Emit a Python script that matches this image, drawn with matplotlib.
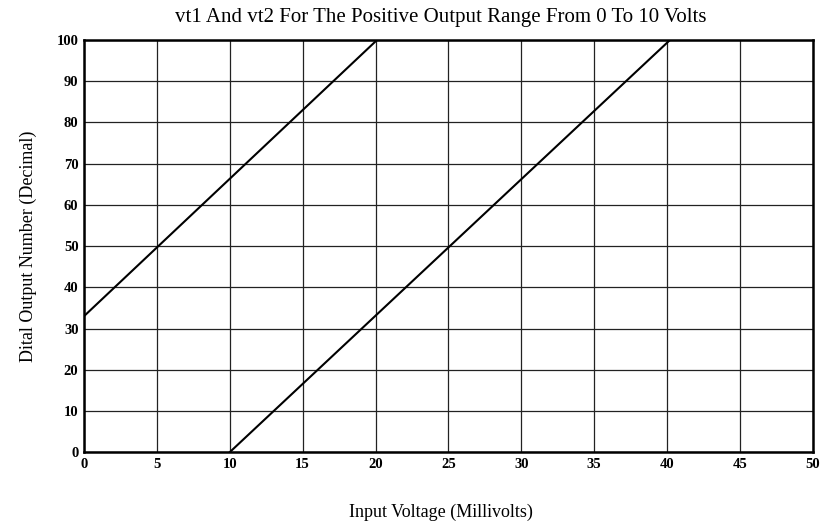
import numpy as np
import matplotlib.pyplot as plt

# line endpoints (input mV, output number)
vt1_x = [0, 20.1]
vt1_y = [33, 100]
vt2_x = [10, 40.2]
vt2_y = [0, 100]

x_ticks = list(range(0, 51, 5))
y_ticks = list(range(0, 101, 10))

plt.rcParams['font.family'] = ['Liberation Serif', 'DejaVu Serif']

fig = plt.figure(figsize=(8.26, 5.27), dpi=100)
ax = fig.add_axes([0.1017, 0.142, 0.8823, 0.782])

ax.plot(vt1_x, vt1_y, color='black', lw=1.5)
ax.plot(vt2_x, vt2_y, color='black', lw=1.5)

ax.set_xlim(0, 50)
ax.set_ylim(0, 100)
ax.set_xticks(x_ticks)
ax.set_yticks(y_ticks)
ax.tick_params(length=0, labelsize=10.5, pad=4)
for lab in ax.get_xticklabels() + ax.get_yticklabels():
    lab.set_fontweight('bold')

ax.grid(True, color='#222222', lw=0.9)
ax.set_axisbelow(True)
for s in ax.spines.values():
    s.set_linewidth(1.8)
    s.set_color('black')

ax.set_title("vt1 And vt2 For The Positive Output Range From 0 To 10 Volts",
             fontsize=15, pad=13, x=0.49)
ax.set_xlabel("Input Voltage (Millivolts)", fontsize=13, labelpad=24, x=0.49)
ax.set_ylabel("Dital Output Number (Decimal)", fontsize=13, labelpad=14)

fig.savefig("out.png", dpi=100)
